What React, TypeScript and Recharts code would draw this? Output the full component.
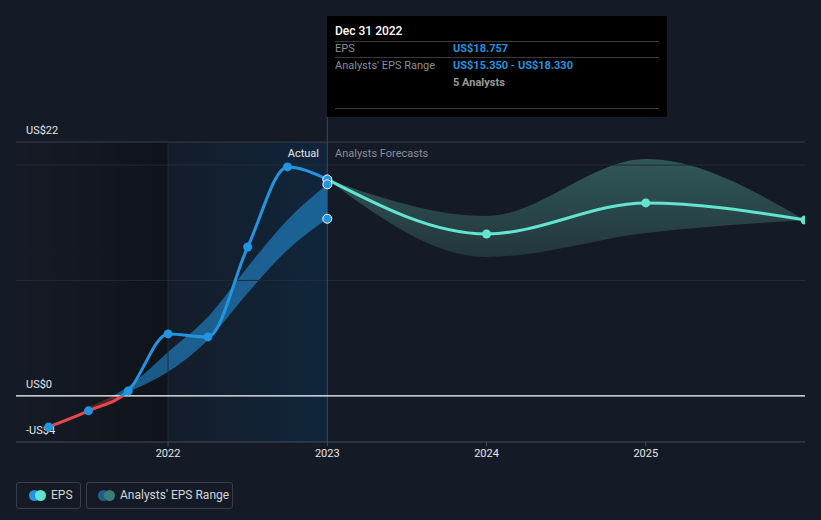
import React from "react";
import {
  ComposedChart,
  Line,
  Area,
  XAxis,
  YAxis,
  ReferenceLine,
  ReferenceArea,
  ReferenceDot,
} from "recharts";

// actual quarterly EPS (x = fractional year)
const quarters = [2021.25, 2021.5, 2021.75, 2022, 2022.25, 2022.5, 2022.75, 2023];
const epsActual = [-2.69, -1.3, 0.43, 5.37, 5.11, 12.9, 19.84, 18.757];
const pastLow = [null, -1.35, 0.3, 2.08, 4.85, 8.92, 12.65, 15.35];
const pastHigh = [null, -1.0, 0.8, 3.81, 6.84, 11.17, 15.24, 18.33];

// analyst forecasts
const forecastYears = [2023, 2024, 2025, 2026];
const epsForecast = [18.757, 14.03, 16.72, 15.24];
const forecastLow = [18.757, 12.04, 14.12, 15.24];
const forecastHigh = [18.757, 15.59, 20.53, 15.24];

// points highlighted at Dec 31 2022
const markerValues = [18.757, 18.33, 15.35];

const xTicks = [2022, 2023, 2024, 2025];
const yTicks = [-4, 0, 22];
const gridValues = [10, 20];
const X_DOMAIN: [number, number] = [2021.045, 2026];
const Y_MIN = -4;
const Y_MAX = 22;

const W = 821;
const H = 520;
const MARGIN = { top: 142, right: 16, bottom: 48, left: 16 };
const PLOT_TOP = MARGIN.top;
const PLOT_BOTTOM = H - MARGIN.bottom - 30;

const BLUE = "#2394df";
const TEAL = "#62e4cf";
const RED = "#e5484d";
const FONT = "Roboto, 'Noto Sans', sans-serif";

type Row = {
  t: number;
  eps?: number;
  pastRange?: [number, number];
  forecast?: number;
  forecastRange?: [number, number];
};

function buildRows(): Row[] {
  const map = new Map<number, Row>();
  const get = (t: number) => {
    if (!map.has(t)) map.set(t, { t });
    return map.get(t)!;
  };
  quarters.forEach((t, i) => {
    const r = get(t);
    r.eps = epsActual[i];
    const lo = pastLow[i];
    const hi = pastHigh[i];
    if (lo !== null && hi !== null) r.pastRange = [lo, hi];
  });
  forecastYears.forEach((t, i) => {
    const r = get(t);
    r.forecast = epsForecast[i];
    r.forecastRange = [forecastLow[i], forecastHigh[i]];
  });
  return Array.from(map.values()).sort((a, b) => a.t - b.t);
}

const rows = buildRows();

const fmtMoney = (v: number) => (v < 0 ? `-US$${-v}` : `US$${v}`);

// y value labels sit just above their line, at the left of the plot
const yLabel = (v: number) => (props: any) => {
  const vb = props.viewBox || {};
  return (
    <text x={vb.x + 10} y={vb.y - 8} fill="#e6e6e6" fontSize={11} fontFamily={FONT}>
      {fmtMoney(v)}
    </text>
  );
};

const XTick = (props: any) => {
  const { x, y, payload } = props;
  return (
    <text x={x} y={y} dy={9} textAnchor="middle" fill="#e6e6e6" fontSize={11} fontFamily={FONT}>
      {payload.value}
    </text>
  );
};

const zeroOffset = Y_MAX / (Y_MAX - Y_MIN);

export default function App() {
  return (
    <div
      style={{
        position: "absolute",
        left: 0,
        top: 0,
        width: W,
        height: H,
        background: "#151b26",
        fontFamily: FONT,
        overflow: "hidden",
      }}
    >
      <ComposedChart width={W} height={H} data={rows} margin={MARGIN}>
        <defs>
          <linearGradient id="epsStroke" gradientUnits="userSpaceOnUse" x1="0" y1={PLOT_TOP} x2="0" y2={PLOT_BOTTOM}>
            <stop offset={zeroOffset} stopColor={BLUE} />
            <stop offset={zeroOffset} stopColor={RED} />
          </linearGradient>
          <linearGradient id="pastFill" gradientUnits="userSpaceOnUse" x1="0" y1={PLOT_TOP} x2="0" y2={PLOT_BOTTOM}>
            <stop offset={zeroOffset} stopColor={BLUE} stopOpacity={0.55} />
            <stop offset={zeroOffset} stopColor="#c84040" stopOpacity={0.35} />
          </linearGradient>
          <linearGradient id="forecastFill" x1="0" y1="0" x2="0" y2="1">
            <stop offset="0" stopColor="#305858" />
            <stop offset="1" stopColor="#23363d" />
          </linearGradient>
          <linearGradient id="leftShade" x1="0" y1="0" x2="1" y2="0">
            <stop offset="0" stopColor="#000" stopOpacity={0} />
            <stop offset="1" stopColor="#000" stopOpacity={0.3} />
          </linearGradient>
          <linearGradient id="actualShade" x1="0" y1="0" x2="1" y2="0">
            <stop offset="0" stopColor="#01437a" stopOpacity={0.04} />
            <stop offset="1" stopColor="#01437a" stopOpacity={0.26} />
          </linearGradient>
        </defs>

        <ReferenceArea x1={X_DOMAIN[0]} x2={2022} y1={Y_MIN} y2={Y_MAX} fill="url(#leftShade)" fillOpacity={1} stroke="none" />
        <ReferenceArea x1={2022} x2={2023} y1={Y_MIN} y2={Y_MAX} fill="url(#actualShade)" fillOpacity={1} stroke="none" />

        {gridValues.map((v) => (
          <ReferenceLine key={v} y={v} stroke="#242a35" strokeWidth={1} />
        ))}
        <ReferenceLine y={Y_MAX} stroke="#3a3f49" strokeWidth={1} label={yLabel(yTicks[2])} />
        <ReferenceLine y={Y_MIN} stroke="none" label={yLabel(yTicks[0])} />
        <ReferenceLine x={2022} stroke="#1b2d40" strokeWidth={1} />
        <ReferenceLine
          segment={[
            { x: 2023, y: Y_MIN },
            { x: 2023, y: 24.2 },
          ]}
          ifOverflow="visible"
          stroke="#2c4d6c"
          strokeWidth={1}
        />
        <ReferenceLine y={0} stroke="#ffffff" strokeWidth={1.3} label={yLabel(yTicks[1])} />

        <XAxis
          dataKey="t"
          type="number"
          domain={X_DOMAIN}
          ticks={xTicks}
          allowDataOverflow
          axisLine={{ stroke: "#474c57" }}
          tickLine={{ stroke: "#474c57" }}
          tickSize={4}
          height={30}
          tick={<XTick />}
        />
        <YAxis type="number" domain={[Y_MIN, Y_MAX]} ticks={yTicks} hide allowDataOverflow />

        <Area
          type="monotone"
          dataKey="pastRange"
          stroke="none"
          fill="url(#pastFill)"
          fillOpacity={1}
          isAnimationActive={false}
          activeDot={false}
        />
        <Area
          type="monotone"
          dataKey="forecastRange"
          stroke="none"
          fill="url(#forecastFill)"
          fillOpacity={1}
          isAnimationActive={false}
          activeDot={false}
        />
        <Line
          type="monotone"
          dataKey="eps"
          stroke="url(#epsStroke)"
          strokeWidth={3}
          dot={{ r: 4.5, fill: BLUE, stroke: BLUE, strokeWidth: 0 }}
          isAnimationActive={false}
          activeDot={false}
        />
        <Line
          type="monotone"
          dataKey="forecast"
          stroke={TEAL}
          strokeWidth={3}
          dot={{ r: 4.5, fill: TEAL, stroke: TEAL, strokeWidth: 0 }}
          isAnimationActive={false}
          activeDot={false}
        />
        {markerValues.map((v) => (
          <ReferenceDot key={v} x={2023} y={v} r={4.5} fill={BLUE} stroke="#ffffff" strokeWidth={1} />
        ))}
      </ComposedChart>

      <div style={{ position: "absolute", left: 260, top: 147, width: 59, textAlign: "right", fontSize: 11, color: "#e6e6e6" }}>
        Actual
      </div>
      <div style={{ position: "absolute", left: 335, top: 147, fontSize: 11, color: "#8a8f98" }}>
        Analysts Forecasts
      </div>

      {/* fixed tooltip */}
      <div style={{ position: "absolute", left: 327, top: 16, width: 340, height: 101, background: "#000", fontSize: 11 }}>
        <div style={{ position: "absolute", left: 8, top: 8, color: "#fff", fontSize: 12, fontWeight: 500 }}>Dec 31 2022</div>
        <div style={{ position: "absolute", left: 8, top: 25, width: 324, height: 1, background: "#3a3a3a" }} />
        <div style={{ position: "absolute", left: 8, top: 26, color: "#8a8f98" }}>EPS</div>
        <div style={{ position: "absolute", left: 126, top: 26, color: BLUE, fontWeight: 700 }}>US$18.757</div>
        <div style={{ position: "absolute", left: 8, top: 41, width: 324, height: 1, background: "#3a3a3a" }} />
        <div style={{ position: "absolute", left: 8, top: 43, color: "#8a8f98" }}>Analysts' EPS Range</div>
        <div style={{ position: "absolute", left: 126, top: 43, color: BLUE, fontWeight: 700 }}>
          US$15.350 - US$18.330
        </div>
        <div style={{ position: "absolute", left: 126, top: 60, color: "#9a9a9a", fontWeight: 700 }}>5 Analysts</div>
        <div style={{ position: "absolute", left: 8, top: 92, width: 324, height: 1, background: "#3a3a3a" }} />
      </div>

      {/* legend */}
      <div
        style={{
          position: "absolute",
          left: 16,
          top: 482,
          width: 63,
          height: 25,
          border: "1px solid #3a3f4a",
          borderRadius: 3,
        }}
      >
        <span style={{ position: "absolute", left: 12, top: 7, width: 11, height: 11, borderRadius: "50%", background: BLUE }} />
        <span style={{ position: "absolute", left: 18, top: 7, width: 11, height: 11, borderRadius: "50%", background: TEAL }} />
        <span style={{ position: "absolute", left: 34, top: 5, fontSize: 12, color: "#d6d6d6" }}>EPS</span>
      </div>
      <div
        style={{
          position: "absolute",
          left: 86,
          top: 482,
          width: 145,
          height: 25,
          border: "1px solid #3a3f4a",
          borderRadius: 3,
        }}
      >
        <span style={{ position: "absolute", left: 11, top: 7, width: 11, height: 11, borderRadius: "50%", background: "#1f5f8f" }} />
        <span style={{ position: "absolute", left: 17, top: 7, width: 11, height: 11, borderRadius: "50%", background: "#3d7c76" }} />
        <span style={{ position: "absolute", left: 33, top: 5, fontSize: 12, color: "#d6d6d6" }}>Analysts' EPS Range</span>
      </div>
    </div>
  );
}
